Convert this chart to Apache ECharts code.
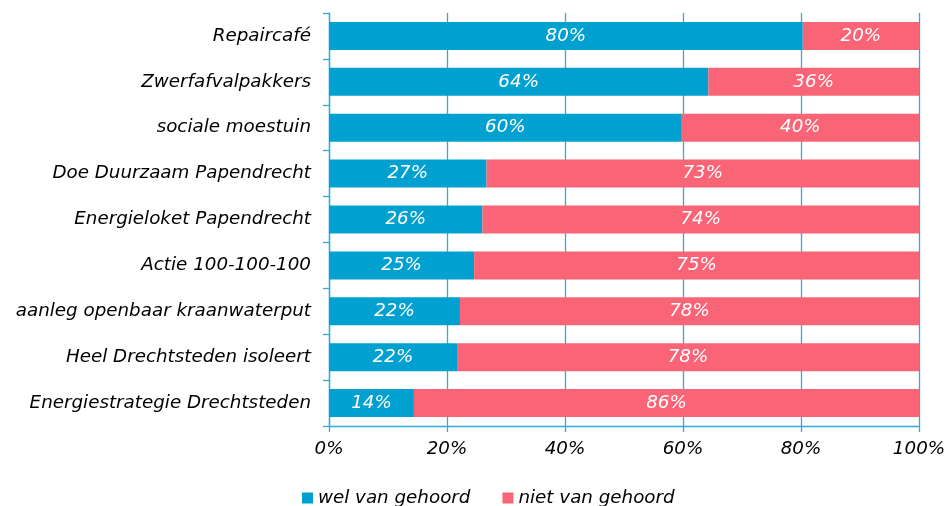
<!DOCTYPE html>
<html>
<head>
<meta charset="utf-8">
<script src="https://cdn.jsdelivr.net/npm/echarts@6/dist/echarts.min.js"></script>
<style>
  html, body { margin: 0; padding: 0; background: #fff; }
  #chart { width: 950px; height: 506px; }
</style>
</head>
<body>
<div id="chart"></div>
<script>
  // categories, top to bottom
  var categories = ['Repaircafé', 'Zwerfafvalpakkers', 'sociale moestuin', 'Doe Duurzaam Papendrecht',
    'Energieloket Papendrecht', 'Actie 100-100-100', 'aanleg openbaar kraanwaterput',
    'Heel Drechtsteden isoleert', 'Energiestrategie Drechtsteden'];
  // percentages
  var welGehoord = [80.3, 64.3, 59.8, 26.7, 26.0, 24.6, 22.2, 21.7, 14.4];
  var nietGehoord = [19.7, 35.7, 40.2, 73.3, 74.0, 75.4, 77.8, 78.3, 85.6];
  var seriesNames = ['wel van gehoord', 'niet van gehoord'];

  var fontFam = 'DejaVu Sans, Verdana, sans-serif';
  var fontSz = 18.3;
  var axisColor = '#33a8dc';

  var myChart = echarts.init(document.getElementById('chart'));

  var barLabel = {
    show: true,
    position: 'inside',
    color: '#fff',
    fontStyle: 'italic',
    fontFamily: fontFam,
    fontSize: fontSz,
    formatter: function (p) {
      return Math.round(p.value) + '%';
    }
  };

  var option = {
    animation: false,
    grid: {
      left: 329,
      right: 31,
      top: 13,
      bottom: 80
    },
    legend: {
      data: seriesNames,
      left: 297,
      top: 484,
      itemWidth: 11,
      itemHeight: 11,
      itemGap: 32,
      icon: 'rect',
      textStyle: {
        color: '#000',
        fontStyle: 'italic',
        fontFamily: fontFam,
        fontSize: fontSz
      }
    },
    xAxis: {
      type: 'value',
      min: 0,
      max: 100,
      interval: 20,
      axisLine: { show: true, lineStyle: { color: axisColor, width: 1.3 } },
      axisTick: { show: true, length: 6, lineStyle: { color: axisColor, width: 1.3 } },
      splitLine: { show: true, lineStyle: { color: axisColor, width: 1.3 } },
      axisLabel: {
        color: '#000',
        fontStyle: 'italic',
        fontFamily: fontFam,
        fontSize: fontSz,
        margin: 14,
        formatter: '{value}%'
      }
    },
    yAxis: {
      type: 'category',
      inverse: true,
      data: categories,
      axisLine: { show: true, lineStyle: { color: axisColor, width: 1.3 } },
      axisTick: { show: true, length: 6, lineStyle: { color: axisColor, width: 1.3 } },
      splitLine: { show: false },
      axisLabel: {
        color: '#000',
        fontStyle: 'italic',
        fontFamily: fontFam,
        fontSize: fontSz,
        margin: 18
      }
    },
    series: [
      {
        name: seriesNames[0],
        type: 'bar',
        stack: 'total',
        barWidth: 28,
        itemStyle: { color: '#00a1d1' },
        label: barLabel,
        data: welGehoord
      },
      {
        name: seriesNames[1],
        type: 'bar',
        stack: 'total',
        barWidth: 28,
        itemStyle: { color: '#f96476' },
        label: barLabel,
        data: nietGehoord
      }
    ]
  };
  myChart.setOption(option, true);
</script>
</body>
</html>
